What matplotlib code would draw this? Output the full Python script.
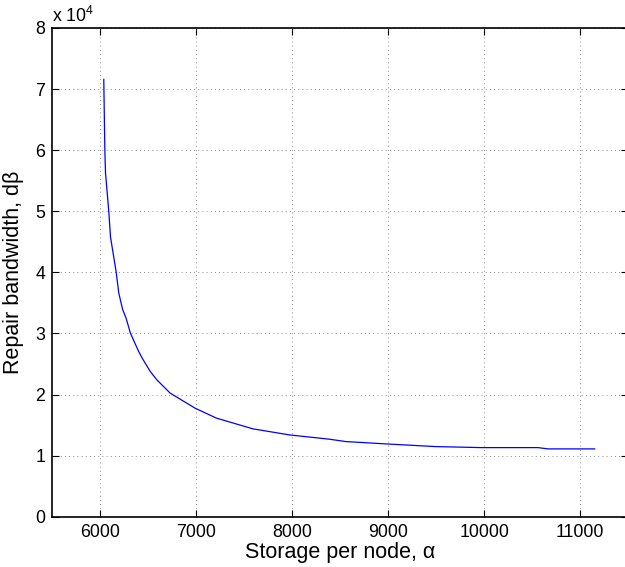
import matplotlib
matplotlib.use("Agg")
import matplotlib.pyplot as plt
from matplotlib.ticker import FuncFormatter

plt.rcParams['font.family'] = ['Liberation Sans', 'DejaVu Sans']
plt.rcParams['mathtext.fontset'] = 'custom'
plt.rcParams['mathtext.rm'] = 'Liberation Sans'

storage = [6039, 6050, 6057, 6091, 6109, 6168, 6195, 6236, 6271, 6316, 6402, 6443,
           6523, 6592, 6730, 6989, 7213, 7592, 7972, 8386, 8559, 8973, 9491, 9973,
           10560, 10664, 11150]
bandwidth = [71600, 60100, 56300, 50000, 45800, 40060, 36620, 33890, 32520, 30060,
             27050, 25850, 23770, 22400, 20230, 17770, 16130, 14380, 13390, 12690,
             12300, 11920, 11480, 11310, 11310, 11100, 11100]
xticks = [6000, 7000, 8000, 9000, 10000, 11000]
yticks = [0, 10000, 20000, 30000, 40000, 50000, 60000, 70000, 80000]

fig = plt.figure(figsize=(6.25, 5.67), dpi=100)
ax = fig.add_axes([52/625, 1-516.7/567, 576.3/625, 488.7/567])
ax.plot(storage, bandwidth, color=(0, 0, 1), lw=0.9)
ax.set_xlim(5500, 11500)
ax.set_ylim(0, 80000)
ax.set_xticks(xticks)
ax.set_yticks(yticks)
ax.yaxis.set_major_formatter(FuncFormatter(lambda v, p: f"{v/1e4:g}"))
ax.tick_params(direction='in', top=True, right=True, labelsize=12.8, length=5, width=0.8, pad=5)
ax.grid(True, linestyle=(0, (1, 4)), color='#666666', linewidth=0.6)
for s in ax.spines.values():
    s.set_linewidth(1.2)
ax.set_xlabel("Storage per node, α", fontsize=15.5, labelpad=1)
ax.set_ylabel("Repair bandwidth, dβ", fontsize=15.5, labelpad=8)
ax.text(0.0, 1.004, r"x 10$^{4}$", transform=ax.transAxes, fontsize=12.8, ha='left', va='bottom')
fig.savefig("out.png", dpi=100)
